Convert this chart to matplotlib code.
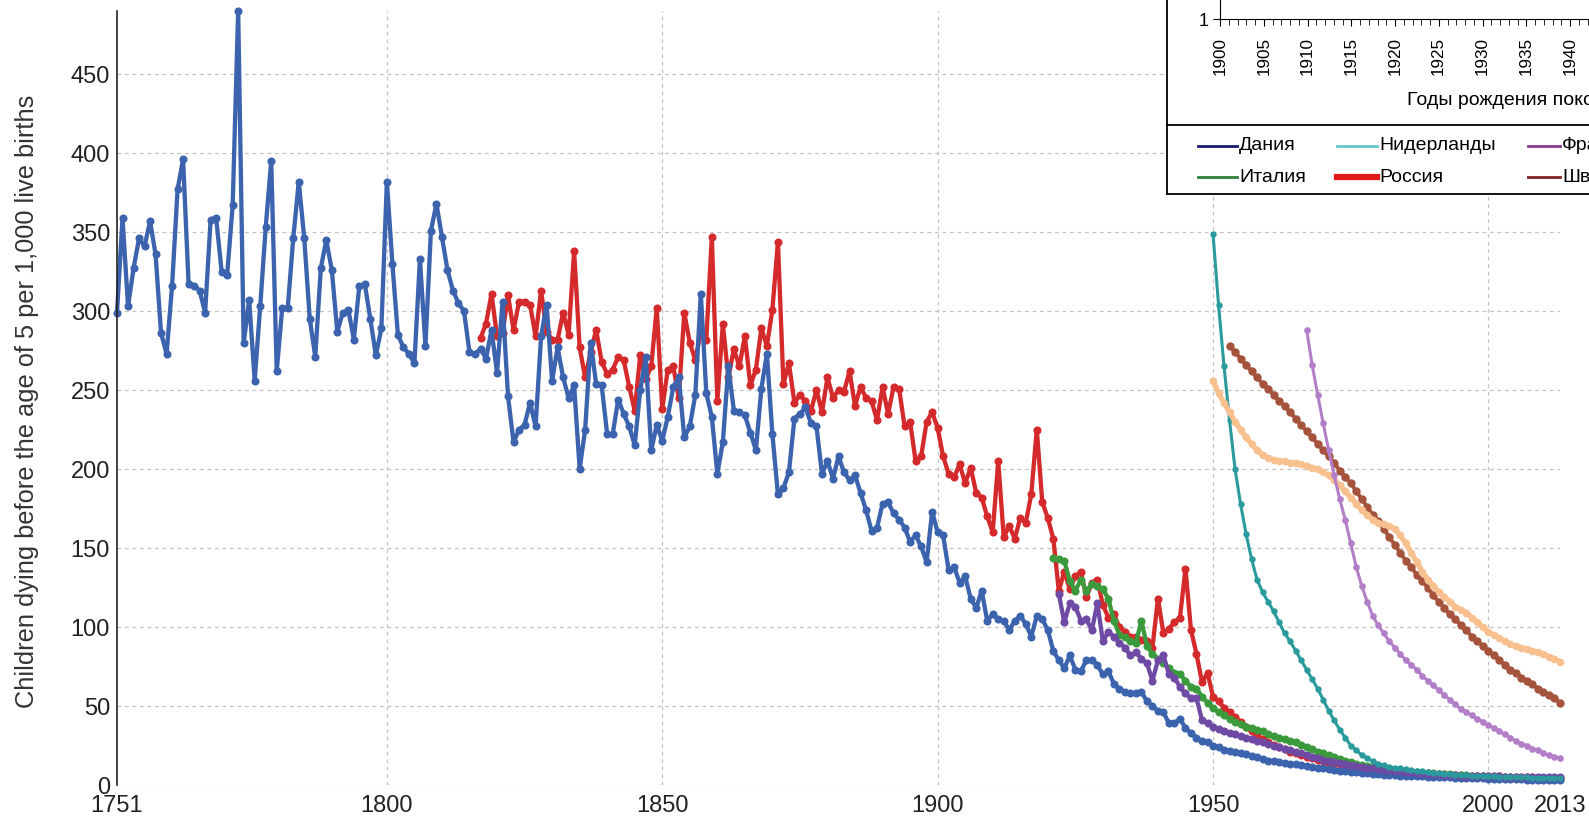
import numpy as np
import matplotlib.pyplot as plt
from matplotlib.lines import Line2D

plt.rcParams['font.family'] = ['Liberation Sans', 'DejaVu Sans']

W, H = 1589, 821

# blue series, 1751-2013
blue = [
    299, 359, 303, 327, 346, 341, 357, 336, 286, 273,
    316, 377, 396, 317, 316, 313, 299, 358, 359, 325,
    323, 367, 490, 280, 307, 256, 303, 353, 395, 262,
    302, 302, 346, 382, 346, 295, 271, 327, 345, 326,
    287, 299, 301, 282, 316, 317, 295, 272, 289, 382,
    330, 285,
    277, 273, 267, 333, 278, 351, 368, 347, 326, 313,
    305, 300, 274, 273, 276, 270, 288, 261, 306, 246,
    217, 225, 228, 242, 227, 284, 304, 256, 277, 258,
    245, 253, 200, 225, 280, 254, 253, 222, 222, 244,
    235, 227, 215, 250, 271, 212, 228, 218, 233, 252,
    258, 220, 227, 247, 311, 248, 233, 197, 217, 265,
    237, 236, 234, 223, 212, 251, 273, 222, 184, 188,
    198, 232, 235, 239, 229, 227, 197, 205, 194, 208,
    198, 193, 196, 185, 174, 161, 163, 178, 179, 172,
    168, 163, 154, 158, 151, 141, 173, 160, 158,
    136, 138, 128, 132, 118, 112, 123, 104, 108, 105,
    104, 98, 104, 107, 102, 94, 107, 105, 98, 85,
    79, 74, 82, 73, 72, 79, 79, 76, 70, 72,
    64, 61, 59, 58, 58, 59, 53, 50, 47, 46,
    39, 39, 42, 36, 33, 30, 28, 27, 25, 24,
    22,
    21.5, 21, 20.5, 19.5, 18.5, 17.5, 16.5, 15.5, 15, 14.5,
    14, 13.5, 13, 12.5, 12, 11.5, 11, 10.5, 10, 9.5,
    9, 8.7, 8.3, 8, 7.6, 7.3, 7, 6.8, 6.6, 6.4,
    6.2, 6, 5.8, 5.6, 5.5, 5.4, 5.3, 5.1, 5, 4.9,
    4.8, 4.7, 4.6, 4.5, 4.4, 4.3, 4.2, 4.1, 4, 3.9,
    3.8, 3.7, 3.6, 3.5, 3.4, 3.3, 3.2, 3.2, 3.1, 3.0,
    3.0,
]

# red series, 1817-2013
red = [
    283, 292, 311, 284, 286, 310, 288, 306, 306, 304,
    284, 313, 287, 282, 282, 299, 285, 338, 277, 258,
    274, 288, 268, 260, 263, 271, 269, 252, 237, 272,
    257, 265, 302, 238, 263, 265, 245, 299, 280, 269,
    287, 282, 347, 243, 292, 258, 276, 265, 284, 253,
    263, 289, 278, 301, 344, 254, 267, 242, 247, 243,
    237, 250, 236, 258, 245, 250, 249, 262, 240, 252,
    245, 243, 231, 252, 235, 252, 251, 227, 230, 205,
    208, 230, 236, 226, 208, 197, 195, 203, 191, 201,
    185, 182, 170, 160, 205, 157, 164, 156, 169, 166,
    184, 225, 179, 169, 156, 123, 135, 124, 132, 135,
    119, 128, 130, 114, 106, 108, 100, 97, 94, 94,
    92, 91, 87, 118, 96, 99, 103, 106, 137, 98,
    83, 65, 71, 56, 53, 49, 46,
    43, 40, 37, 34, 31, 29, 27, 25.5, 24, 22.5,
    21, 20, 19, 18, 17, 16, 15, 14.2, 13.5, 13,
    12.5, 12, 11.6, 11.2, 10.8, 10.4, 10, 9.6, 9.2, 8.9,
    8.6, 8.3, 8, 7.8, 7.6, 7.4, 7.2, 7, 6.8, 6.6,
    6.4, 6.2, 6.0, 5.9, 5.8, 5.7, 5.6, 5.5, 5.4, 5.3,
    5.2, 5.1, 5.0, 4.9, 4.8, 4.7, 4.6, 4.5, 4.4, 4.3,
]

# green series, 1921-2013
green = [
    144, 143, 142, 129, 123, 130, 123, 127, 126, 124,
    118, 104, 95, 94, 91, 90, 104, 88, 83, 80,
    77, 74, 71, 70, 66, 62, 61, 56, 52, 49,
    46, 44, 42,
    40, 38.5, 37, 36, 35, 34, 32.5, 31, 30, 29,
    28, 27, 25.5, 24, 22.5, 21, 20, 19, 17.5, 16.5,
    15.5, 14.5, 13.5, 12.5, 12, 11.5, 11, 10.5, 10, 9.6,
    9.2, 8.8, 8.5, 8.2, 7.9, 7.6, 7.3, 7.1, 6.9, 6.7,
    6.5, 6.3, 6.1, 5.9, 5.7, 5.5, 5.3, 5.1, 5.0, 4.9,
    4.8, 4.7, 4.6, 4.5, 4.4, 4.3, 4.2, 4.1, 4.0, 3.9,
]

# dark purple series, 1922-2013
purple = [
    121, 103, 115, 113, 104, 105, 98, 115, 91, 97,
    94, 90, 87, 82, 84, 80, 77, 66, 79, 82,
    70, 68, 62, 58, 55, 55, 41,
    39, 37, 35.5, 34, 33, 32, 31, 30, 29, 28,
    27, 26, 25, 24, 23, 22, 21, 20, 19, 18,
    17, 16, 15.5, 14.5, 14, 13, 12.5, 12, 11.5, 11,
    10.5, 10, 9.7, 9.4, 9, 8.7, 8.4, 8.1, 7.8, 7.5,
    7.2, 7, 6.8, 6.6, 6.4, 6.2, 6, 5.9, 5.8, 5.7,
    5.6, 5.5, 5.4, 5.4, 5.3, 5.3, 5.2, 5.2, 5.1, 5.1,
    5.0, 5.0, 5.0, 4.9, 4.9,
]

# teal series, 1950-2013
teal = [
    349, 304, 265, 231, 200, 178, 159, 143, 130, 122,
    116, 110, 103, 96, 91, 85, 79, 73, 67, 61,
    54, 47, 41, 35, 30, 25, 22, 19, 17, 15,
    13.5, 12.5, 11.5, 11, 10.5, 10, 9.5, 9, 8.6, 8.2,
    7.8, 7.5, 7.2, 6.9, 6.6, 6.4, 6.2, 6, 5.8, 5.6,
    5.5, 5.4, 5.3, 5.2, 5.1, 5, 4.9, 4.8, 4.7, 4.6,
    4.5, 4.4, 4.3, 4.2,
]

# peach series, 1950-2013
peach = [
    256, 248, 242, 236, 230, 225, 220, 216, 212, 209,
    207, 206, 205, 205, 204, 204, 203, 202, 201, 200,
    198, 196, 193, 190, 186, 182, 178, 174, 171, 168,
    166, 165, 164, 162, 158, 153, 147, 141, 135, 130,
    126, 122, 119, 116, 113, 111, 109, 106, 103, 100,
    97, 95, 93, 91, 89, 88, 87, 86, 85, 84,
    83, 81, 80, 78,
]

# brown series, 1953-2013
brown = [
    278, 274, 270, 266, 262, 258, 254, 251, 247, 243,
    240, 236, 232, 228, 224, 220, 216, 212, 208, 204,
    199, 195, 191, 186, 181, 176, 171, 167, 162, 157,
    152, 147, 142, 138, 133, 129, 125, 120, 116, 112,
    108, 105, 101, 98, 94, 91, 88, 85, 82, 79,
    76, 73, 71, 68, 66, 64, 61, 59, 57, 55,
    52,
]

# light purple series, 1967-2013
lilac = [
    288, 266, 247, 229, 212, 196, 181, 168, 153, 138,
    126, 116, 107, 101, 96, 91, 87, 83, 79, 76,
    73, 69, 66, 63, 60, 57, 54, 51, 48, 46,
    44, 42, 40, 38, 36, 34, 32, 30, 28, 26,
    25, 23, 22, 20, 19, 18, 17,
]

series = [
    (1817, red, '#d42a2b', 3.1, 5.8),
    (1921, green, '#3a9a3c', 3.1, 5.8),
    (1751, blue, '#3c63ae', 3.1, 5.8),
    (1922, purple, '#6f4aa4', 3.1, 5.8),
    (1950, teal, '#2b9a9c', 2.2, 4.6),
    (1953, brown, '#a6533e', 2.8, 6.0),
    (1950, peach, '#f8bf8f', 3.8, 5.5),
    (1967, lilac, '#b27ec8', 2.2, 4.8),
]

xticks = [1751, 1800, 1850, 1900, 1950, 2000, 2013]
yticks = list(range(0, 451, 50))

fig = plt.figure(figsize=(W / 100, H / 100), dpi=100)
ax = fig.add_axes([117 / W, 1 - 785 / H, (1560 - 117) / W, (785 - 11) / H])

for v in yticks:
    ax.axhline(v, color='#c2c2c2', lw=0.9, ls=(0, (3, 3)), zorder=0)
for v in xticks[1:-1]:
    ax.axvline(v, color='#c2c2c2', lw=0.9, ls=(0, (3, 3)), zorder=0)

for start, vals, col, lw, ms in series:
    yrs = np.arange(start, start + len(vals))
    ax.plot(yrs, vals, color=col, lw=lw, marker='o', ms=ms, mew=0,
            solid_joinstyle='round', clip_on=False)

ax.set_xlim(1751, 2013)
ax.set_ylim(0, 490)
ax.set_xticks(xticks)
ax.set_yticks(yticks)
ax.tick_params(length=0, labelsize=17, colors='#222222')
ax.tick_params(axis='x', pad=7)
ax.tick_params(axis='y', pad=5)
for s in ['top', 'right', 'bottom']:
    ax.spines[s].set_visible(False)
ax.spines['left'].set_color('#222222')
ax.spines['left'].set_linewidth(1.2)
ax.set_ylabel('Children dying before the age of 5 per 1,000 live births',
              fontsize=18.3, color='#333333')
ax.yaxis.set_label_coords(-0.054, 0.495)

# overlapping inset box (top right)
box = fig.add_axes([1167 / W, 1 - 194 / H, 0.5, 0.5])
box.set_xticks([])
box.set_yticks([])
box.set_facecolor('white')
for s in box.spines.values():
    s.set_color('black')
    s.set_linewidth(1.3)
fig.add_artist(Line2D([1167 / W, 1.05], [1 - 125 / H, 1 - 125 / H],
                      transform=fig.transFigure, color='black', lw=1.3))

inner = fig.add_axes([1220 / W, 1 - 19 / H, 520 / W, 0.2])
inner.set_facecolor('none')
inner.set_xlim(1900, 1900 + 520 / 8.75)
inner.set_ylim(1, 10)
inner.set_xticks(np.arange(1900, 1960, 5))
inner.set_xticks(np.arange(1900, 1960, 1), minor=True)
inner.set_yticks([1])
inner.tick_params(axis='x', which='major', rotation=90, labelsize=12.3,
                  length=5, pad=8)
inner.tick_params(axis='x', which='minor', length=4)
inner.tick_params(axis='y', labelsize=13, length=5)
for s in ['top', 'right']:
    inner.spines[s].set_visible(False)
fig.text(1407 / W, 1 - 100 / H, 'Годы рождения поколений', fontsize=14,
         ha='left', va='center')

leg_labels = ['Дания', 'Нидерланды', 'Франция', 'Италия', 'Россия', 'Швеция']
leg_colors = ['#1b1b70', '#62c6c9', '#8a3c8c', '#2f7f3a', '#e01818', '#7e2222']
leg_widths = [2, 2, 2, 2, 4.5, 2]
col_x = [(1198, 1237), (1337, 1377), (1528, 1560)]
row_y = [146, 177]
for i, (lab, col, lw) in enumerate(zip(leg_labels, leg_colors, leg_widths)):
    x0, x1 = col_x[i % 3]
    y = 1 - row_y[i // 3] / H
    fig.add_artist(Line2D([x0 / W, x1 / W], [y, y], transform=fig.transFigure,
                          color=col, lw=lw))
    fig.text((x1 + 2) / W, y, lab, fontsize=14, ha='left', va='center')

fig.savefig('out.png', dpi=100)
